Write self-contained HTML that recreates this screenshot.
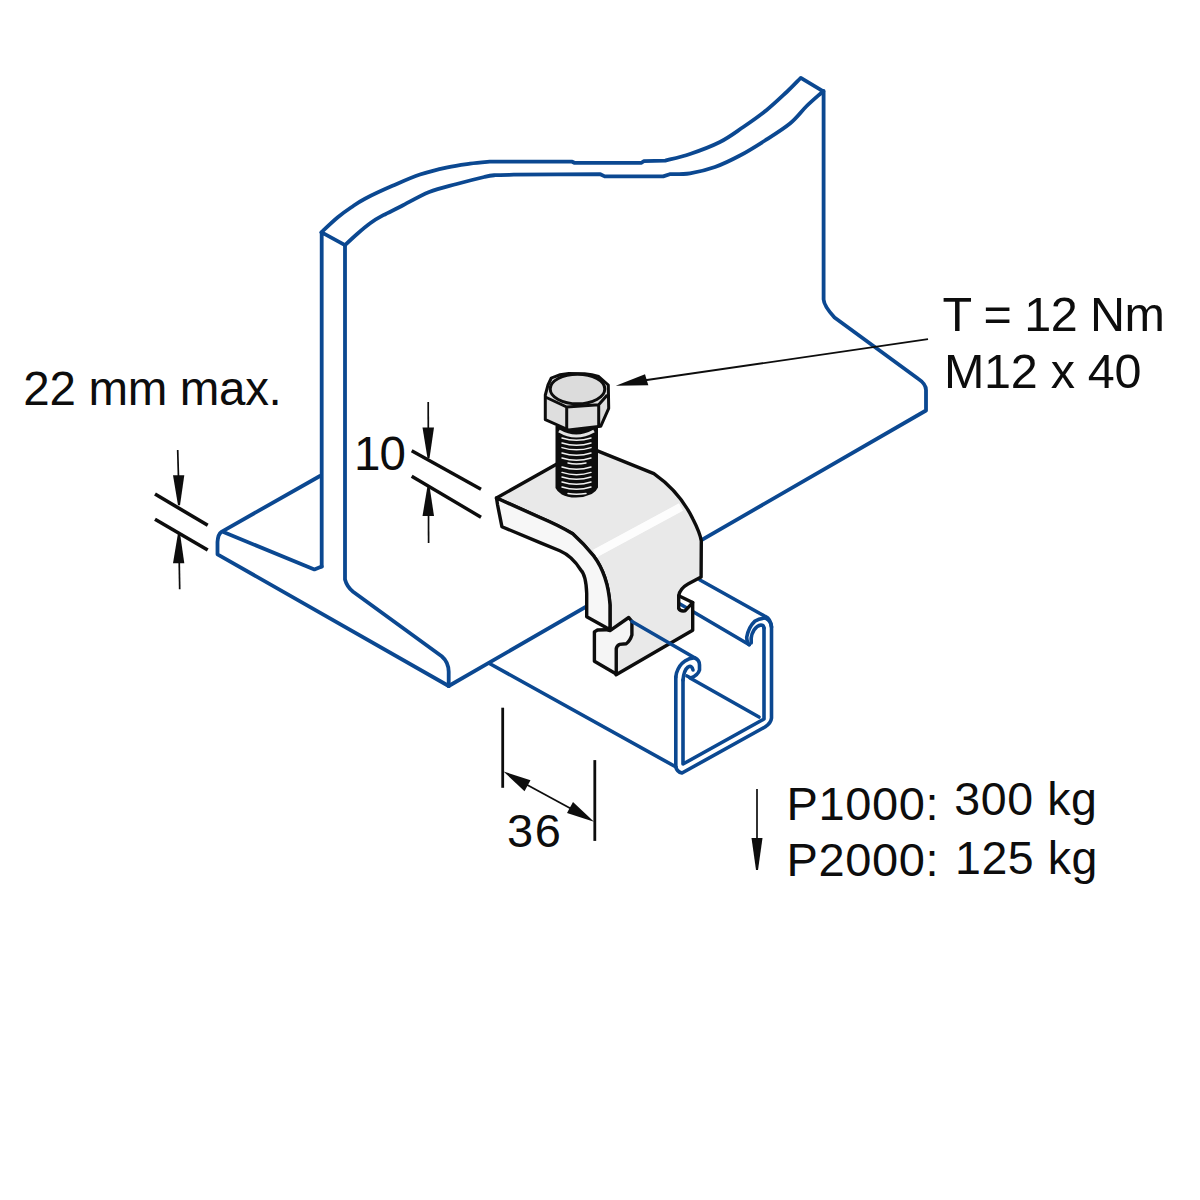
<!DOCTYPE html>
<html><head><meta charset="utf-8"><style>
html,body{margin:0;padding:0;background:#fff;}
svg{display:block;}
</style></head><body>
<svg width="1200" height="1200" viewBox="0 0 1200 1200">
<rect width="1200" height="1200" fill="#fff"/>

<g fill="none" stroke="#0b4891" stroke-width="3.8" stroke-linejoin="round" stroke-linecap="round">
  <polyline points="321.7,566.5 321.7,232.3 345,245.2"/>
  <path d="M321.3,232.3 C324.0,229.8 332.6,221.6 337.5,217.5 C342.4,213.4 346.4,210.6 351.0,207.5 C355.6,204.4 358.1,202.3 365.0,198.7 C371.9,195.1 383.3,189.8 392.5,185.8 C401.7,181.8 410.8,177.6 420.0,174.5 C429.2,171.4 439.2,169.1 447.5,167.3 C455.8,165.5 463.0,164.6 470.0,163.6 C477.0,162.6 486.4,161.9 489.7,161.6 L572.2,161.7 L574.3,162.8 L641.5,162.8 L643.7,161.2 L665.3,160.6 C669.4,159.5 680.9,157.1 690.0,154.0 C699.1,150.9 711.1,146.5 720.0,142.0 C728.9,137.5 735.5,132.3 743.3,127.0 C751.1,121.7 759.5,115.8 766.7,110.0 C773.9,104.2 781.0,97.3 786.7,92.0 C792.4,86.7 798.4,80.2 800.8,77.9 L823.3,91.3"/>
  <path d="M345.0,245.2 C347.1,243.2 353.4,237.2 357.7,233.5 C361.9,229.8 366.2,226.1 370.5,223.0 C374.8,219.9 378.1,218.0 383.3,215.2 C388.5,212.4 394.1,209.9 401.7,206.0 C409.3,202.1 420.0,195.7 429.2,192.0 C438.4,188.3 447.5,186.5 456.7,184.0 C465.9,181.5 477.8,178.5 484.2,177.0 C490.6,175.5 490.1,175.6 495.0,175.2 C499.9,174.8 510.6,174.8 513.7,174.7 L600.3,174.2 L604.7,176.4 L663.2,176.4 L669.7,174.2 C673.1,174.0 682.5,174.5 690.0,173.3 C697.5,172.1 706.7,170.0 715.0,167.0 C723.3,164.0 731.7,159.9 740.0,155.5 C748.3,151.1 756.7,145.8 765.0,140.5 C773.3,135.2 783.0,129.2 790.0,123.5 C797.0,117.8 801.4,111.2 806.7,106.0 C812.0,100.8 819.2,94.8 821.7,92.5"/>
  <path d="M345,245 L345,579.5 Q347,587 353.1,591.7 L441.7,656.2 Q448.5,662 448.7,671.7 L448.7,686"/>
  <path d="M823.6,91 L823.6,299.5 Q824,306 834.5,317.5 L918.5,379 Q926,384 926,390 L926,410.5 L448.7,686"/>
  <path d="M448.7,686 L217.5,554.3 L217.5,542 Q218,534 221.5,531.8 L320,476"/>
  <polyline points="224,532.3 314.4,569.4 321.7,566.5"/>
</g>

<g fill="none" stroke="#0b4891" stroke-width="3.6" stroke-linejoin="round" stroke-linecap="round">
  <line x1="489.5" y1="663.5" x2="676" y2="767"/>
  <path d="M675.8,677 L675.8,767 Q677,772 682,773 L765,727 Q771,723 771.5,718 L771.5,627 Q771,621 766,618.5"/>
  <path d="M683,680 L683,764 L764,719 L764,628"/>
  <path d="M675.8,677 L676.5,673 Q679,665 685,661 Q690,657.5 695,658 Q699.5,660 699.5,665 L699.5,670 Q698,675 691,678 L687,676"/>
  <path d="M683,680 Q684,670 688,667 Q692,665 693,670"/>
  <line x1="690" y1="678" x2="759" y2="717"/>
  <path d="M700,580 L765.3,616.5 Q770.7,619 771.5,627"/>
  <path d="M765.3,618 Q759,618.5 754.7,621.3 Q748.5,627 746.7,637.3 Q747,643 749.3,644.7"/>
  <path d="M764,628 Q763.5,625 761,625 Q757,625.5 754,630 Q751.5,634 751.2,638 L751.2,643"/>
  <line x1="680" y1="604" x2="749.3" y2="644.7"/>
</g>

<g stroke="#0d0d0d" fill="#0d0d0d">
  <line x1="640" y1="381" x2="928" y2="339.2" stroke-width="1.8"/>
  <polygon points="615.8,385.8 645,374.2 648.3,385.3" stroke="none"/>
</g>

<g stroke="#0d0d0d" stroke-width="3.4" stroke-linejoin="round" stroke-linecap="round">
  <path fill="#e9e9e9" d="M496.5,498 L556,464.4 L597.5,450.8 L653.9,473.6 Q680,492 692.9,519.1 Q700,533 701.3,541 L701.1,577 L688,584 Q680,588.5 678.7,595.7 L678.7,608.5 Q680,611.5 685,610.8 L692.7,602.6 L692.7,630.3 L616.1,674.8 L610,629.5 L610,605 Q608,575 593.7,556 Q584,544 572.7,533.8 Q560,526 540,517.5 Z"/>
  <path fill="none" d="M678.7,595.7 L692.7,602.6"/>
  <path fill="#f7f7f7" d="M496.5,498 L540,517.5 Q560,526 572.7,533.8 Q584,544 593.7,556 Q608,575 610,605 L610,629.5 L606.5,627.8 L586.7,616.7 L586.7,593.3 Q586,575 580.8,570 Q572,556 559.8,550.8 L540,542.6 L501.9,526.7 L497.6,505 Z"/>
</g>
<path d="M595,553.5 L681,507" stroke="#ffffff" stroke-width="8.5" stroke-linecap="butt" opacity="0.95"/>

<g>
  <path fill="#0d0d0d" d="M555.5,426 L598,426 L598,487.5 Q596,492 591.75,493.9 Q584,497.5 576,497.5 Q567,497.5 561.75,494.4 Q557,491.5 555.5,488 Z"/>
  <path d="M559,431 Q576,441 594,431" fill="none" stroke="#e4e4e4" stroke-width="3"/>
  <g fill="none" stroke="#f2f2f2" stroke-width="1.5" stroke-linecap="round"><path d="M562,438 Q576.5,442.5 591,438"/><path d="M562,443 Q576.5,447.5 591,443"/><path d="M562,447.6 Q576.5,452.1 591,447.6"/><path d="M562,453 Q576.5,457.5 591,453"/><path d="M562,458 Q576.5,462.5 591,458"/><path d="M568,463 Q576,465 586,463"/><path d="M562,467 Q576.5,471.5 591,467"/><path d="M562,472.4 Q576.5,476.9 591,472.4"/><path d="M562,477 Q576.5,481.5 591,477"/><path d="M562,482 Q576.5,486.5 591,482"/><path d="M562,487 Q576.5,491.5 591,487"/><path d="M568,493.5 Q576,495 586,493.5"/></g>
  <g stroke="#0d0d0d" stroke-width="3" stroke-linejoin="round">
    <path fill="#dedede" d="M551.3,378 Q560,374 568.7,373.6 L584.7,373.8 Q592,374.3 598.7,376.5 L608.3,385 L608.7,408.3 L600.7,426.3 L568.7,430 L545.3,419.7 L545.3,395 L548,385 Z"/>
    <path fill="none" d="M545.3,397 L566.7,407 L598.7,404.7 L607.3,395 M566.7,407 L566.7,430 M598.7,404.7 L598.7,426.3"/>
    <ellipse cx="577.5" cy="389" rx="27.3" ry="14.8" fill="#dcdcdc"/>
  </g>
</g>

<g stroke="#0d0d0d" stroke-width="3.4" stroke-linejoin="round" stroke-linecap="round">
  <path fill="#f5f5f5" d="M594.4,631.9 L597.5,630 L606,629.7 L610,630.6 L628.75,617.5 L631.9,621.25 L631.9,635 Q630,641 626.25,643.75 L619.4,644.4 Q616.5,646 616.25,648.75 L616.25,674 L594.4,661.25 Z"/>
</g>
<g fill="none" stroke="#0b4891" stroke-width="3.6" stroke-linecap="round">
  <line x1="632" y1="621.5" x2="695" y2="658"/>
</g>

<g font-family="Liberation Sans" fill="#0d0d0d">
<text x="23.3" y="404.7" font-size="47.5" textLength="258.5" lengthAdjust="spacing">22 mm max.</text>
<text x="942.4" y="331.0" font-size="48.5" textLength="222.5" lengthAdjust="spacing">T = 12 Nm</text>
<text x="944.0" y="388.0" font-size="48.5" textLength="197.5" lengthAdjust="spacing">M12 x 40</text>
<text x="354.0" y="469.5" font-size="47.5" textLength="51.8" lengthAdjust="spacing">10</text>
<text x="507.0" y="847.3" font-size="47" textLength="53.9" lengthAdjust="spacing">36</text>
<text x="786.6" y="819.6" font-size="47" textLength="152.0" lengthAdjust="spacing">P1000:</text>
<text x="786.6" y="875.9" font-size="47" textLength="152.0" lengthAdjust="spacing">P2000:</text>
<text x="954.3" y="815.0" font-size="46.5" textLength="142.6" lengthAdjust="spacing">300 kg</text>
<text x="955.0" y="874.3" font-size="46.5" textLength="142.4" lengthAdjust="spacing">125 kg</text>
</g>

<g stroke="#0d0d0d" fill="none" stroke-linecap="butt">
  <line x1="177.7" y1="450" x2="178.5" y2="478" stroke-width="1.7"/>
  <line x1="155" y1="494" x2="207.7" y2="525.3" stroke-width="3.6"/>
  <line x1="155" y1="519.3" x2="207.7" y2="550" stroke-width="3.6"/>
  <line x1="179.2" y1="560" x2="179.7" y2="589.3" stroke-width="1.7"/>
  <line x1="428.2" y1="402" x2="428.3" y2="430" stroke-width="1.7"/>
  <line x1="411.7" y1="450.75" x2="481" y2="489.3" stroke-width="3.4"/>
  <line x1="411.7" y1="476.25" x2="481" y2="517.2" stroke-width="3.4"/>
  <line x1="428.5" y1="513" x2="428.6" y2="543" stroke-width="1.7"/>
  <line x1="502.7" y1="707.7" x2="502.7" y2="787.8" stroke-width="2.8"/>
  <line x1="594.8" y1="760.1" x2="594.8" y2="840.9" stroke-width="2.8"/>
  <line x1="520" y1="781" x2="578" y2="812.6" stroke-width="1.7"/>
  <line x1="757" y1="789" x2="757" y2="842" stroke-width="1.7"/>
</g>
<g fill="#0d0d0d" stroke="none">
  <polygon points="173,475.3 184.3,475.3 180,505.3 178,505.3"/>
  <polygon points="173,563.3 184.3,563.3 180,533.3 178,533.3"/>
  <polygon points="422.5,427.5 434,427.5 429.5,458.3 427.5,458.3"/>
  <polygon points="422.5,516 434,516 429.5,486 427.5,486"/>
  <polygon points="503.5,771.5 530.5,780.2 524.5,791.2"/>
  <polygon points="594,821.8 567,813.1 573,802.1"/>
  <polygon points="751.5,838 762.5,838 758,870 756,870"/>
</g>
</svg>
</body></html>
